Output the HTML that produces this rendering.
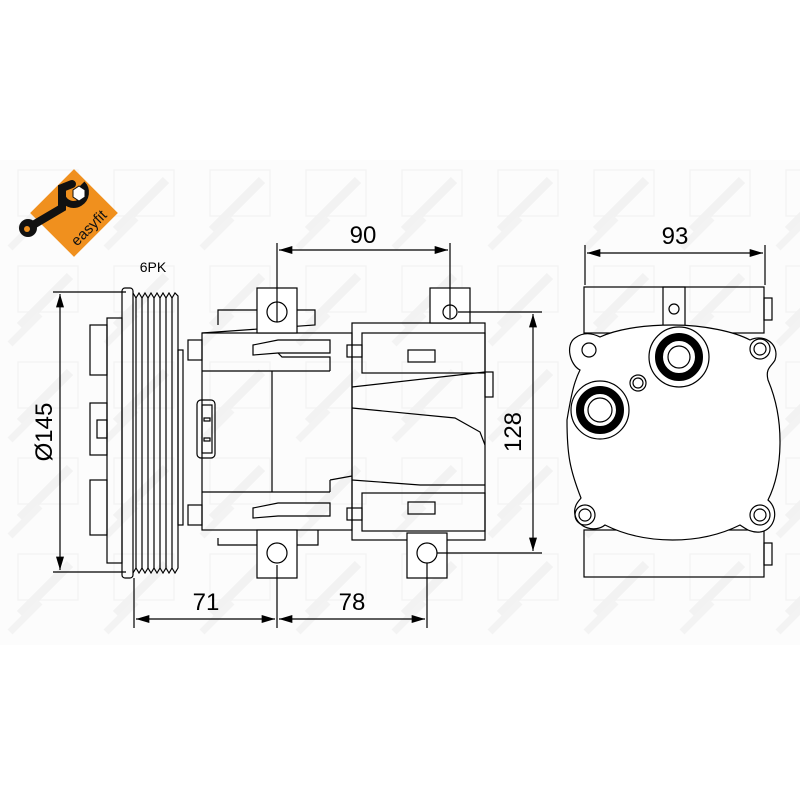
<!DOCTYPE html>
<html><head><meta charset="utf-8"><style>
html,body{margin:0;padding:0;background:#fff;}
svg{display:block;}
text{font-family:"Liberation Sans",sans-serif;}
</style></head><body>
<svg width="800" height="800" viewBox="0 0 800 800" xmlns="http://www.w3.org/2000/svg">
<defs>
<marker id="a" viewBox="0 0 10 6" refX="10" refY="3" markerWidth="18" markerHeight="8" markerUnits="userSpaceOnUse" orient="auto-start-reverse"><path d="M0,0L10,3L0,6z" fill="#000"/></marker>
<pattern id="wm" x="0" y="160" width="96" height="96" patternUnits="userSpaceOnUse">
<rect x="18" y="10" width="60" height="46" fill="none" stroke="#f4f4f4" stroke-width="1.5"/>
<path d="M20,70 L70,20" stroke="#f2f2f2" stroke-width="9"/>
<path d="M10,88 L40,58" stroke="#f3f3f3" stroke-width="7"/>
</pattern>
</defs>
<rect x="0" y="160" width="800" height="485" fill="#fcfcfc"/>
<rect x="0" y="160" width="800" height="485" fill="url(#wm)"/>

<!-- logo -->
<g transform="translate(74,213) rotate(-45)">
<rect x="-31" y="-31" width="62" height="62" fill="#f0901e"/>
<text x="0" y="26" font-size="15" text-anchor="middle" fill="#111">easyfit</text>
</g>
<path d="M28,228 L62,208 L62,188 L72,184" stroke="#111" stroke-width="8" fill="none" stroke-linecap="round"/>
<circle cx="28" cy="228" r="9" fill="#111"/><circle cx="27" cy="229" r="3" fill="#f0901e"/>
<path d="M62,196 a12,12 0 1 0 20,-12" stroke="#111" stroke-width="7" fill="none"/>
<polygon points="73,190 79,186 85,190 85,197 79,201 73,197" fill="#fff" stroke="#111"/>

<text x="153" y="272" font-size="14" text-anchor="middle">6PK</text>

<g fill="none" stroke="#000" stroke-width="1.2">
<line x1="53" y1="292" x2="126" y2="292"/><line x1="53" y1="572" x2="126" y2="572"/>
<line x1="60" y1="294" x2="60" y2="570" marker-start="url(#a)" marker-end="url(#a)"/>
<rect x="90" y="325" width="17" height="50"/><rect x="90" y="403" width="17" height="52"/><rect x="90" y="480" width="17" height="55"/>
<rect x="97" y="420" width="10" height="18"/>
<rect x="107" y="318" width="15" height="245"/>
<rect x="122" y="288" width="11" height="290" rx="3"/>
<path d="M133,293 L136,298 L139,293 L142,298 L145,293 L148,298 L151,293 L154,298 L157,293 L160,298 L163,293 L166,298 L169,293 L172,298 L175,293 L178,296 L178,568 L175,573 L172,568 L169,573 L166,568 L163,573 L160,568 L157,573 L154,568 L151,573 L148,568 L145,573 L142,568 L139,573 L136,568 L133,573"/>
<line x1="136" y1="298" x2="136" y2="568"/><line x1="142" y1="298" x2="142" y2="568"/><line x1="148" y1="298" x2="148" y2="568"/><line x1="154" y1="298" x2="154" y2="568"/><line x1="160" y1="298" x2="160" y2="568"/><line x1="166" y1="298" x2="166" y2="568"/><line x1="172" y1="298" x2="172" y2="568"/>
<rect x="178" y="350" width="5" height="175"/>
<rect x="188" y="340" width="14" height="20"/><rect x="188" y="505" width="14" height="20"/>
<rect x="202" y="333" width="150" height="197"/>
<line x1="202" y1="371" x2="330" y2="371"/><line x1="202" y1="492" x2="330" y2="492"/>
<line x1="272" y1="371" x2="272" y2="492"/>
<path d="M218,325 L218,310 L257,310 M297,310 L315,310 L315,325 L202,333"/>
<path d="M218,538 L218,545 L257,545 M297,545 L318,545 L318,530"/>
<rect x="197" y="400" width="18" height="58" rx="4"/><rect x="202" y="405" width="10" height="48"/>
<rect x="204" y="418" width="6" height="3"/><rect x="204" y="438" width="6" height="3"/>
<path d="M253,345 L278,340 L330,340 L330,353 L278,353 L253,355 Z"/>
<path d="M278,353 L282,357 L330,357 L330,371"/>
<path d="M253,508 L278,503 L330,503 L330,516 L278,516 L253,518 Z"/>
<path d="M330,480 L352,476 M330,492 L330,480"/>
<rect x="347" y="345" width="15" height="12"/><rect x="347" y="508" width="15" height="12"/>
<rect x="352" y="323" width="133" height="217"/>
<rect x="362" y="333" width="123" height="40"/>
<rect x="408" y="350" width="27" height="12"/>
<line x1="352" y1="387" x2="485" y2="372"/>
<path d="M352,408 L455,418 L480,432 L485,445"/>
<path d="M352,480 L420,485 L485,485"/>
<rect x="362" y="493" width="123" height="38"/>
<rect x="408" y="502" width="27" height="12"/>
<rect x="485" y="372" width="8" height="25"/>
<rect x="257" y="288" width="40" height="45" fill="#fff"/>
<circle cx="277" cy="312" r="10"/>
<rect x="430" y="288" width="40" height="35" fill="#fff"/>
<circle cx="450" cy="312" r="7"/>
<rect x="257" y="530" width="40" height="48" fill="#fff"/>
<circle cx="277" cy="553" r="10"/>
<rect x="407" y="533" width="40" height="45" fill="#fff"/>
<circle cx="427" cy="553" r="10"/>
<line x1="277" y1="243" x2="277" y2="322"/><line x1="450" y1="243" x2="450" y2="318"/>
<line x1="279" y1="250" x2="448" y2="250" marker-start="url(#a)" marker-end="url(#a)"/>
<line x1="458" y1="312" x2="542" y2="312"/><line x1="437" y1="553" x2="542" y2="553"/>
<line x1="533" y1="314" x2="533" y2="551" marker-start="url(#a)" marker-end="url(#a)"/>
<line x1="134" y1="578" x2="134" y2="628"/><line x1="277" y1="565" x2="277" y2="628"/><line x1="427" y1="563" x2="427" y2="628"/>
<line x1="136" y1="619" x2="275" y2="619" marker-start="url(#a)" marker-end="url(#a)"/>
<line x1="279" y1="619" x2="425" y2="619" marker-start="url(#a)" marker-end="url(#a)"/>
<line x1="585" y1="245" x2="585" y2="285"/><line x1="765" y1="245" x2="765" y2="285"/>
<line x1="587" y1="253" x2="763" y2="253" marker-start="url(#a)" marker-end="url(#a)"/>
<rect x="584" y="287" width="180" height="46"/>
<rect x="663" y="287" width="22" height="40"/>
<circle cx="674" cy="309" r="5"/>
<rect x="764" y="298" width="8" height="22"/>
<rect x="584" y="530" width="180" height="47"/>
<rect x="764" y="543" width="8" height="22"/>
<path d="M600,337 C615,330 640,325 673,325 C705,325 735,332 750,340 C765,333 780,345 775,360 C772,366 765,368 768,380 C785,420 783,470 768,500 C780,510 775,530 760,532 C750,533 745,528 740,525 C700,545 645,545 605,525 C595,533 578,528 575,515 C573,505 580,500 581,498 C570,470 567,455 567,420 C572,390 575,380 580,370 C570,365 565,345 575,338 C583,332 592,333 600,337 Z" fill="#fff"/>
<circle cx="589" cy="350" r="7"/>
<circle cx="760" cy="349" r="10"/><circle cx="760" cy="349" r="6"/>
<circle cx="585" cy="515" r="10"/><circle cx="585" cy="515" r="6"/>
<circle cx="760" cy="515" r="10"/><circle cx="760" cy="515" r="6"/>
<circle cx="679" cy="357" r="30" fill="#fff"/><circle cx="679" cy="357" r="20" stroke-width="8"/><circle cx="679" cy="357" r="11"/>
<circle cx="600" cy="410" r="29" fill="#fff"/><circle cx="600" cy="410" r="20" stroke-width="8"/><circle cx="600" cy="410" r="12"/>
<circle cx="638" cy="383" r="8"/><circle cx="638" cy="383" r="5"/>
</g>

<g font-size="24" fill="#000">
<text x="363" y="243" text-anchor="middle">90</text>
<text x="675" y="244" text-anchor="middle">93</text>
<text x="206" y="610" text-anchor="middle">71</text>
<text x="352" y="610" text-anchor="middle">78</text>
<text transform="translate(521,432) rotate(-90)" text-anchor="middle">128</text>
<text transform="translate(52,432) rotate(-90)" text-anchor="middle">Ø145</text>
</g>
</svg>
</body></html>
